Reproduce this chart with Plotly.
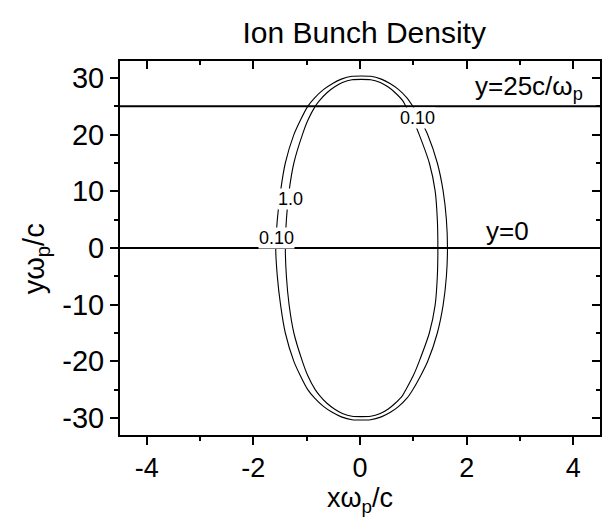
import plotly.graph_objects as go

# Contour traces of the ion bunch density: for each listed height y,
# the left and right x positions where the density equals the level.
outer_y = [30.3, 29.8, 29.0, 28.0, 26.5, 25.0, 22.5, 20.0, 15.0, 10.0, 5.0, 0.0,
           -5.0, -10.0, -15.0, -20.0, -22.5, -25.0, -26.5, -28.0, -29.0, -29.8, -30.3]
outer_xl = [-0.15, -0.35, -0.52, -0.68, -0.85, -0.98, -1.12, -1.24, -1.40, -1.49, -1.55, -1.58,
            -1.55, -1.49, -1.40, -1.24, -1.12, -0.98, -0.85, -0.68, -0.52, -0.35, -0.15]
outer_xr = [0.20, 0.40, 0.57, 0.72, 0.88, 0.99, 1.14, 1.27, 1.45, 1.56, 1.62, 1.64,
            1.62, 1.56, 1.45, 1.27, 1.14, 0.99, 0.88, 0.72, 0.57, 0.40, 0.20]

inner_y = [29.7, 29.2, 28.4, 27.4, 26.0, 25.0, 22.5, 20.0, 15.0, 10.0, 5.0, 0.0,
           -5.0, -10.0, -15.0, -20.0, -22.5, -25.0, -26.0, -27.4, -28.4, -29.2, -29.7]
inner_xl = [-0.15, -0.33, -0.48, -0.62, -0.76, -0.84, -0.98, -1.08, -1.24, -1.33, -1.38, -1.40,
            -1.38, -1.33, -1.24, -1.08, -0.98, -0.84, -0.76, -0.62, -0.48, -0.33, -0.15]
inner_xr = [0.20, 0.38, 0.53, 0.66, 0.80, 0.86, 1.00, 1.11, 1.30, 1.41, 1.45, 1.46,
            1.45, 1.41, 1.30, 1.11, 1.00, 0.86, 0.80, 0.66, 0.53, 0.38, 0.20]

# Contour level labels: (text, x, y)
level_labels = [("0.10", 1.08, 23.0), ("1.0", -1.31, 8.7), ("0.10", -1.57, 1.8)]

# Reference lines
line_levels = [25.0, 0.0]
line_texts = ["y=25c/ω<sub>p</sub>", "y=0"]
line_text_x = [4.22, 3.21]

# Axis ticks (hyphen minus signs)
x_ticks = [-4, -2, 0, 2, 4]
x_ticktext = ["-4", "-2", "0", "2", "4"]
y_ticks = [30, 20, 10, 0, -10, -20, -30]
y_ticktext = ["30", "20", "10", "0", "-10", "-20", "-30"]

x_range = [-4.5, 4.5]
y_range = [-33, 33]

FONT = "Liberation Sans, Arial, sans-serif"


def closed_path(ys, xl, xr):
    xs = list(xr) + list(reversed(xl)) + [xr[0]]
    yy = list(ys) + list(reversed(ys)) + [ys[0]]
    return xs, yy


fig = go.Figure()

for ys, xl, xr in [(outer_y, outer_xl, outer_xr), (inner_y, inner_xl, inner_xr)]:
    px, py = closed_path(ys, xl, xr)
    fig.add_trace(go.Scatter(x=px, y=py, mode="lines",
                             line=dict(color="black", width=1.1, shape="spline", smoothing=0.6),
                             hoverinfo="skip", showlegend=False))

for lv in line_levels:
    fig.add_trace(go.Scatter(x=x_range, y=[lv, lv], mode="lines",
                             line=dict(color="black", width=2),
                             hoverinfo="skip", showlegend=False))

# invisible trace to activate the mirrored axes
fig.add_trace(go.Scatter(x=[0], y=[0], xaxis="x2", yaxis="y2", mode="markers",
                         marker=dict(opacity=0), hoverinfo="skip", showlegend=False))

annotations = []
for txt, lx, ly in level_labels:
    annotations.append(dict(x=lx, y=ly, text=txt, showarrow=False,
                            font=dict(family=FONT, size=18, color="black"),
                            bgcolor="white", borderpad=0))
for txt, lv, tx in zip(line_texts, line_levels, line_text_x):
    annotations.append(dict(x=tx, y=lv, text=txt, showarrow=False,
                            xanchor="right", yanchor="bottom", yshift=0,
                            font=dict(family=FONT, size=26, color="black")))
# y-axis title, placed a little below the axis centre
annotations.append(dict(x=0, xref="paper", xanchor="center", xshift=-84,
                        y=-2.0, yref="y",
                        text="yω<sub>p</sub>/c", textangle=-90, showarrow=False,
                        font=dict(family=FONT, size=29, color="black")))

axis_common = dict(showgrid=False, zeroline=False, showline=True,
                   linecolor="black", linewidth=2, tickcolor="black", tickwidth=1.5)

fig.update_layout(
    width=603, height=517,
    margin=dict(l=120, r=3, t=61, b=82),
    paper_bgcolor="white", plot_bgcolor="white",
    title=dict(text="Ion Bunch Density", x=0.604, xanchor="center", y=0.937, yanchor="middle",
               font=dict(family=FONT, size=30, color="black")),
    xaxis=dict(range=x_range, tickmode="array", tickvals=x_ticks, ticktext=x_ticktext,
               ticks="outside", ticklen=8,
               minor=dict(dtick=1, tick0=0, ticks="outside", ticklen=4, tickcolor="black"),
               tickfont=dict(family=FONT, size=27, color="black"),
               title=dict(text="xω<sub>p</sub>/c", standoff=4,
                          font=dict(family=FONT, size=27, color="black")),
               **axis_common),
    yaxis=dict(range=y_range, tickmode="array", tickvals=y_ticks, ticktext=y_ticktext,
               ticks="outside", ticklen=8,
               minor=dict(dtick=5, tick0=0, ticks="outside", ticklen=4, tickcolor="black"),
               tickfont=dict(family=FONT, size=29, color="black"),
               **axis_common),
    xaxis2=dict(range=x_range, overlaying="x", side="top", tickmode="array", tickvals=x_ticks,
                ticks="inside", ticklen=8, showticklabels=False,
                minor=dict(dtick=1, tick0=0, ticks="inside", ticklen=4, tickcolor="black"),
                **axis_common),
    yaxis2=dict(range=y_range, overlaying="y", side="right", tickmode="array", tickvals=y_ticks,
                ticks="inside", ticklen=8, showticklabels=False,
                minor=dict(dtick=5, tick0=0, ticks="inside", ticklen=4, tickcolor="black"),
                **axis_common),
    annotations=annotations,
)

fig.write_html("out.html")
